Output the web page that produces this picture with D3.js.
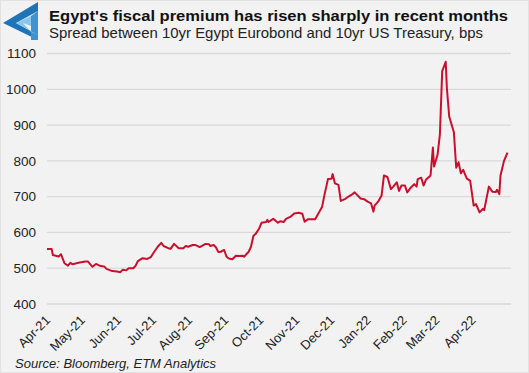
<!DOCTYPE html>
<html>
<head>
<meta charset="utf-8">
<script src="https://cdnjs.cloudflare.com/ajax/libs/d3/7.8.5/d3.min.js"></script>
<style>
  body { margin: 0; background: #fff; }
  text { font-family: "Liberation Sans", Arial, sans-serif; fill: #1a1a1a; }
</style>
</head>
<body>
<script>
// chart data: spread between 10yr Egypt Eurobond and 10yr US Treasury (bps)
var dates = [
  "2021-04-01","2021-04-05","2021-04-06","2021-04-11","2021-04-13","2021-04-16","2021-04-19","2021-04-21",
  "2021-04-23","2021-04-28","2021-05-04","2021-05-06","2021-05-10","2021-05-13","2021-05-17","2021-05-20",
  "2021-05-22","2021-05-27","2021-05-31","2021-06-03","2021-06-05","2021-06-08","2021-06-10","2021-06-14",
  "2021-06-16","2021-06-18","2021-06-22","2021-06-26","2021-06-29","2021-07-02","2021-07-05","2021-07-08",
  "2021-07-10","2021-07-14","2021-07-16","2021-07-19","2021-07-23","2021-07-27","2021-07-29","2021-07-31",
  "2021-08-04","2021-08-06","2021-08-10","2021-08-15","2021-08-18","2021-08-19","2021-08-22","2021-08-24",
  "2021-08-26","2021-08-28","2021-08-31","2021-09-02","2021-09-04","2021-09-07","2021-09-10","2021-09-13",
  "2021-09-16","2021-09-17","2021-09-21","2021-09-23","2021-09-25","2021-09-27","2021-09-30","2021-10-02",
  "2021-10-06","2021-10-07","2021-10-08","2021-10-12","2021-10-14","2021-10-16","2021-10-18","2021-10-21",
  "2021-10-23","2021-10-27","2021-10-30","2021-11-03","2021-11-06","2021-11-08","2021-11-11","2021-11-17",
  "2021-11-20","2021-11-23","2021-11-25","2021-11-28","2021-12-01","2021-12-02","2021-12-04","2021-12-07",
  "2021-12-09","2021-12-13","2021-12-16","2021-12-19","2021-12-21","2021-12-23","2021-12-26","2021-12-29",
  "2022-01-01","2022-01-04","2022-01-06","2022-01-07","2022-01-10","2022-01-13","2022-01-15","2022-01-18",
  "2022-01-21","2022-01-23","2022-01-26","2022-01-28","2022-01-30","2022-02-02","2022-02-04","2022-02-07",
  "2022-02-10","2022-02-12","2022-02-13","2022-02-16","2022-02-18","2022-02-20","2022-02-24","2022-02-26",
  "2022-02-27","2022-03-02","2022-03-04","2022-03-06","2022-03-09","2022-03-10","2022-03-12","2022-03-16",
  "2022-03-18","2022-03-20","2022-03-22","2022-03-24","2022-03-27","2022-03-30","2022-04-02","2022-04-04",
  "2022-04-07","2022-04-10","2022-04-11","2022-04-15","2022-04-18","2022-04-21","2022-04-22","2022-04-24",
  "2022-04-25","2022-04-28","2022-05-01"
];
var spread = [
  554,554,537,533,539,514,507,515,
  511,515,519,519,504,512,506,505,
  498,492,491,489,496,494,500,500,
  507,520,528,526,531,546,560,571,
  562,556,554,568,556,556,562,560,
  565,565,559,568,567,562,565,558,
  545,546,551,532,527,525,535,534,
  535,532,546,560,590,596,611,627,
  629,635,629,638,633,627,631,629,
  638,644,653,655,652,630,637,637,
  654,672,705,749,750,763,737,733,
  688,694,701,707,712,705,695,693,
  686,681,658,675,686,703,759,755,
  721,728,740,716,731,731,712,725,
  735,728,749,753,731,747,759,837,
  784,817,873,1051,1077,1003,924,880,
  781,796,765,775,751,744,675,679,
  656,666,662,728,714,713,719,707,
  759,800,823
];

// axis ticks
var yTicks = [400, 500, 600, 700, 800, 900, 1000, 1100];
var monthTicks = ["2021-04-01","2021-05-01","2021-06-01","2021-07-01","2021-08-01","2021-09-01","2021-10-01",
                  "2021-11-01","2021-12-01","2022-01-01","2022-02-01","2022-03-01","2022-04-01"];

// titles
var title = "Egypt's fiscal premium has risen sharply in recent months";
var subtitle = "Spread between 10yr Egypt Eurobond and 10yr US Treasury, bps";
var source = "Source: Bloomberg, ETM Analytics";

var W = 529, H = 373;
var parseDate = d3.timeParse("%Y-%m-%d");
var fmtMonth = d3.timeFormat("%b-%y");

var data = dates.map(function(d, i) { return {date: parseDate(d), value: spread[i]}; });

// scales
var x = d3.scaleTime()
    .domain([parseDate("2021-04-01"), parseDate("2022-05-04")])
    .range([47, 511]);
var y = d3.scaleLinear()
    .domain([400, 1100])
    .range([304, 53.5]);

var svg = d3.select("body").append("svg")
    .attr("width", W)
    .attr("height", H);

// panel background
svg.append("rect")
    .attr("x", 0.5).attr("y", 0.5)
    .attr("width", W - 1).attr("height", H - 1)
    .attr("fill", "#f2f2f2")
    .attr("stroke", "#e2e2e2");

// logo (impossible triangle)
var logo = svg.append("g").attr("transform", "translate(3,2)");
logo.append("path")
    .attr("d", "M0,21 L35,0 L35,9 L13,21 L35,33 L35,38 Z")
    .attr("fill", "#1f73b7");
logo.append("path")
    .attr("d", "M35,9 L35,38 L28,38 L28,14 Z")
    .attr("fill", "#3d93d3");
logo.append("path")
    .attr("d", "M13,21 L28,14 L28,24 L20,21 L28,30 L35,33 Z")
    .attr("fill", "#8cc6ec");

// title + subtitle
svg.append("text")
    .attr("x", 49).attr("y", 21)
    .attr("textLength", 459).attr("lengthAdjust", "spacingAndGlyphs")
    .style("font-size", "15.5px")
    .style("font-weight", "bold")
    .style("fill", "#111")
    .text(title);

svg.append("text")
    .attr("x", 49).attr("y", 38)
    .attr("textLength", 434).attr("lengthAdjust", "spacingAndGlyphs")
    .style("font-size", "15px")
    .style("fill", "#222")
    .text(subtitle);

// gridlines
svg.append("g")
    .selectAll("line")
    .data(yTicks)
    .enter().append("line")
    .attr("x1", 47).attr("x2", 511)
    .attr("y1", function(d) { return y(d); })
    .attr("y2", function(d) { return y(d); })
    .attr("stroke", "#d9d9d9")
    .attr("stroke-width", 1.3);

// y axis labels
var yAxis = svg.append("g")
    .attr("transform", "translate(36,0)")
    .call(d3.axisLeft(y).tickValues(yTicks).tickFormat(d3.format("d")).tickSize(0).tickPadding(0));
yAxis.select(".domain").remove();
yAxis.selectAll("text")
    .style("font-size", "13.5px")
    .style("font-family", "'Liberation Sans', Arial, sans-serif")
    .style("fill", "#222");

// x axis labels, rotated
svg.append("g")
    .selectAll("text")
    .data(monthTicks.map(parseDate))
    .enter().append("text")
    .attr("transform", function(d) { return "translate(" + (x(d) + 4) + ",321) rotate(-45)"; })
    .attr("text-anchor", "end")
    .style("font-size", "13px")
    .style("fill", "#222")
    .text(function(d) { return fmtMonth(d); });

// spread line
var line = d3.line()
    .x(function(d) { return x(d.date); })
    .y(function(d) { return y(d.value); });

svg.append("path")
    .datum(data)
    .attr("fill", "none")
    .attr("stroke", "#c8102e")
    .attr("stroke-width", 2)
    .attr("stroke-linejoin", "round")
    .attr("d", line);

// source note
svg.append("text")
    .attr("x", 15).attr("y", 368)
    .style("font-size", "13px")
    .style("font-style", "italic")
    .style("fill", "#222")
    .text(source);
</script>
</body>
</html>
